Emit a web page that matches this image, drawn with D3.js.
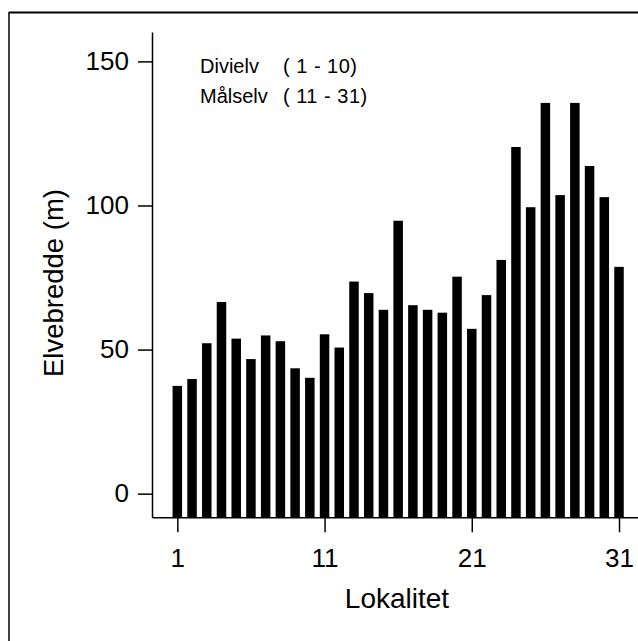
<!DOCTYPE html>
<html>
<head>
<meta charset="utf-8">
<script src="https://cdn.jsdelivr.net/npm/d3@7"></script>
<style>
  html, body { margin: 0; padding: 0; background: #fff; }
  svg { display: block; }
  text { font-family: "Liberation Sans", Arial, Helvetica, sans-serif; fill: #000; }
</style>
</head>
<body>
<svg id="chart" width="638" height="641"></svg>
<script>
// River width (m) at each sampling locality
const localities = d3.range(1, 32);
const widths = [
  37.4, 39.8, 52.2, 66.5, 53.8, 46.7, 54.9, 52.9, 43.5, 40.2,
  55.3, 50.7, 73.6, 69.6, 63.8, 94.7, 65.4, 63.8, 62.8, 75.3,
  57.2, 68.9, 81.1, 120.3, 99.4, 135.6, 103.6, 135.6, 113.7, 102.9,
  78.7
];
const yTicks = [0, 50, 100, 150];
const xTicks = [1, 11, 21, 31];
const legendRivers = ["Divielv", "Målselv"];
const legendRanges = ["( 1 - 10)", "( 11 - 31)"];

const svg = d3.select("#chart");

// outer frame (top and left edges)
svg.append("path")
  .attr("d", "M9,12.5 H638")
  .attr("stroke", "#000").attr("stroke-width", 2).attr("fill", "none");
svg.append("path")
  .attr("d", "M9,12 V641")
  .attr("stroke", "#000").attr("stroke-width", 1.5).attr("fill", "none");

const y = d3.scaleLinear().domain([-8.2, 160.2]).range([517.3, 32]);
const x = d3.scaleLinear().domain([-0.72, 32.29]).range([152, 638]);
const barW = 9.5;

// bars rise from the x-axis line
svg.append("g")
  .selectAll("rect")
  .data(widths)
  .join("rect")
  .attr("x", (d, i) => x(localities[i]) - barW / 2)
  .attr("y", d => y(d))
  .attr("width", barW)
  .attr("height", d => y(-8.2) - y(d))
  .attr("fill", "#000");

// y axis
const gy = svg.append("g")
  .attr("transform", `translate(${x(-0.72)},0)`)
  .call(d3.axisLeft(y).tickValues(yTicks).tickSize(14).tickSizeOuter(0).tickPadding(9));
// x axis
const gx = svg.append("g")
  .attr("transform", `translate(0,${y(-8.2)})`)
  .call(d3.axisBottom(x).tickValues(xTicks).tickSize(15).tickSizeOuter(0).tickPadding(16));

[gy, gx].forEach(g => {
  g.select(".domain").attr("stroke", "#000").attr("stroke-width", 1.5);
  g.selectAll(".tick line").attr("stroke", "#000").attr("stroke-width", 1.5);
  g.selectAll(".tick text")
    .attr("fill", "#000")
    .style("font-family", "'Liberation Sans', Arial, Helvetica, sans-serif")
    .style("font-size", "26px");
});

// axis titles
svg.append("text")
  .attr("transform", "translate(63,283) rotate(-90)")
  .attr("text-anchor", "middle")
  .style("font-size", "27.5px")
  .text("Elvebredde (m)");

svg.append("text")
  .attr("x", 397).attr("y", 608)
  .attr("text-anchor", "middle")
  .style("font-size", "28px")
  .text("Lokalitet");

// legend: rivers and their locality ranges
const legend = svg.append("g");
legendRivers.forEach((name, i) => {
  legend.append("text")
    .attr("x", 200).attr("y", 73 + i * 30)
    .style("font-size", "20px")
    .text(name);
  legend.append("text")
    .attr("x", 283).attr("y", 73 + i * 30)
    .style("font-size", "20px")
    .style("letter-spacing", "0.5px")
    .style("white-space", "pre")
    .text(legendRanges[i]);
});
</script>
</body>
</html>
